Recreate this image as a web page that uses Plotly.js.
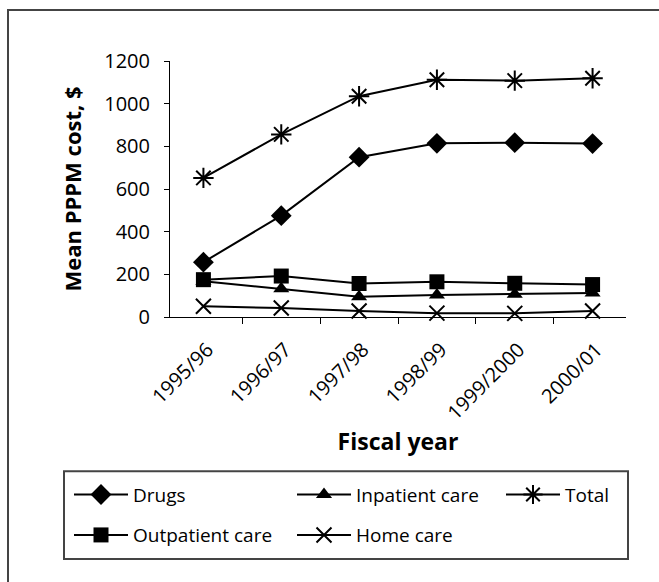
<!DOCTYPE html>
<html>
<head>
<meta charset="utf-8">
<script src="https://cdn.plot.ly/plotly-3.0.1.min.js"></script>
<style>html,body{margin:0;padding:0;background:#fff;}#chart{width:659px;height:582px;}</style>
</head>
<body>
<div id="chart"></div>
<script>
const years = ["1995/96", "1996/97", "1997/98", "1998/99", "1999/2000", "2000/01"];
const drugs = [257, 475, 749, 814, 817, 813];
const inpatient = [168, 133, 95, 103, 107, 113];
const total = [652, 856, 1035, 1112, 1108, 1119];
const outpatient = [175, 192, 157, 165, 158, 152];
const homecare = [50, 42, 28, 18, 17, 28];

const FONT = "'Open Sans', Lato, sans-serif";
const L = 170, T = 61, R = 626, B = 317.5;
const W = R - L, H = B - T;
const px = x => (x - L) / W;
const py = y => (B - y) / H;

function tr(name, y, symbol, size, legend, lw) {
  return {
    type: 'scatter', mode: 'lines+markers', name: name, x: years, y: y,
    line: {color: '#000', width: 2},
    marker: {symbol: symbol, size: size, color: '#000', line: {color: '#000', width: lw || 0}},
    legend: legend, cliponaxis: false
  };
}

const data = [
  tr('Drugs', drugs, 'diamond', 16, 'legend'),
  tr('Inpatient care', inpatient, 'triangle-up', 14, 'legend2'),
  tr('Total', total, 'asterisk-open', 17, 'legend3', 2),
  tr('Outpatient care', outpatient, 'square', 15, 'legend4'),
  tr('Home care', homecare, 'x-thin-open', 15, 'legend5', 2)
];

function leg(x, y) {
  return {x: px(x), y: py(y), xanchor: 'left', yanchor: 'middle', bgcolor: 'rgba(0,0,0,0)',
    borderwidth: 0, font: {family: FONT, size: 19, color: '#000'}, itemwidth: 54, orientation: 'h'};
}

const layout = {
  width: 659, height: 582,
  margin: {l: L, r: 659 - R, t: T, b: 582 - B},
  paper_bgcolor: '#fff', plot_bgcolor: '#fff',
  font: {family: FONT, color: '#000'},
  xaxis: {
    type: 'category', tickson: 'boundaries', ticks: 'outside', ticklen: 6, tickcolor: '#000', tickwidth: 1,
    showline: true, linecolor: '#000', linewidth: 1, showgrid: false, zeroline: false,
    tickangle: -45, tickfont: {family: FONT, size: 20, color: '#000'},
    ticklabelstandoff: 12, ticklabelshift: 4,
    title: {text: '<b>Fiscal year</b>', font: {family: FONT, size: 23, color: '#000'}, standoff: 7},
    fixedrange: true
  },
  yaxis: {
    range: [0, 1200], tickvals: [0, 200, 400, 600, 800, 1000, 1200], ticks: 'outside', ticklen: 5,
    tickcolor: '#000', showline: true, linecolor: '#000', linewidth: 1, showgrid: false, zeroline: false,
    tickfont: {family: FONT, size: 20, color: '#000'}, ticklabelstandoff: 10,
    title: {text: '<b>Mean PPPM cost, $</b>', font: {family: FONT, size: 22, color: '#000'}, standoff: 16},
    fixedrange: true
  },
  showlegend: true,
  legend: leg(69, 495.5),
  legend2: leg(292, 495.5),
  legend3: leg(501, 495.5),
  legend4: leg(69, 536),
  legend5: leg(292, 536),
  shapes: [
    {type: 'rect', xref: 'paper', yref: 'paper', x0: px(64), x1: px(628), y0: py(560), y1: py(472),
     line: {color: '#444', width: 2}, fillcolor: 'rgba(0,0,0,0)'},
    {type: 'path', xref: 'paper', yref: 'paper',
     path: `M ${px(8)},${py(600)} L ${px(8)},${py(10)} L ${px(680)},${py(10)}`,
     line: {color: '#444', width: 2}}
  ]
};

Plotly.newPlot('chart', data, layout, {displayModeBar: false, staticPlot: true});
</script>
</body>
</html>
